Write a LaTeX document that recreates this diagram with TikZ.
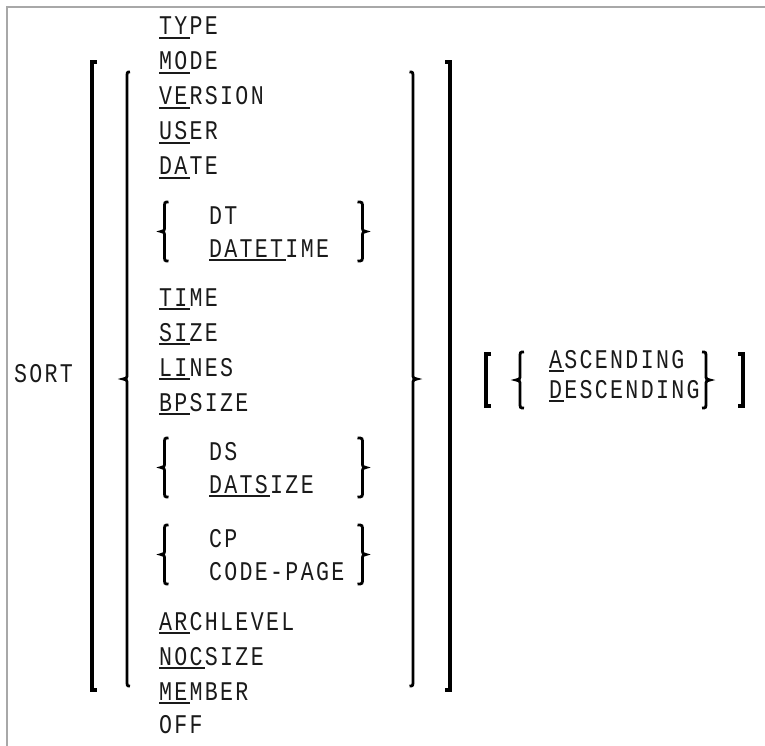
\documentclass[tikz,border=0pt]{standalone}
\usepackage{fontspec}
\newfontfamily\monof{Liberation Mono}[FakeStretch=0.8]
\definecolor{framegray}{HTML}{A8A8A8}
\definecolor{inkc}{HTML}{1A1A1A}
\def\M#1{\Mloop#1\relax}
\def\Mloop#1{\ifx#1\relax\else\makebox[15.3pt][l]{#1}\expandafter\Mloop\fi}
\newcommand\U[1]{\setbox0\hbox{\M{#1}}\rlap{\rule[-3.6pt]{\wd0}{1.4pt}}\box0}
\newcommand\Brc[5]{%
 \draw[brc] ({#1+(#4)},#2) .. controls (#1,#2) .. (#1,{#2+6})
 -- (#1,{(#2+#3)/2-5}) .. controls (#1,{(#2+#3)/2-1}) .. ({#1-(#5)},{(#2+#3)/2})
 .. controls (#1,{(#2+#3)/2+1}) .. (#1,{(#2+#3)/2+5})
 -- (#1,{#3-6}) .. controls (#1,#3) .. ({#1+(#4)},#3);}
\tikzset{
 txt/.style={anchor=base west, inner sep=0pt, outer sep=0pt, text=inkc, font=\monof\fontsize{27}{30}\selectfont},
 brk/.style={line width=4pt, miter limit=10},
 brc/.style={line width=2.8pt},
 frame/.style={draw=framegray, line width=1.5pt}
}
\begin{document}
\begin{tikzpicture}[x=1pt,y=-1pt]
\useasboundingbox (0,0) rectangle (765,746);
\draw[frame] (7,746) -- (7,7) -- (765,7);
% main list
\node[txt] (type) at (159,35) {\U{TY}\M{PE}};
\node[txt] (mode) at (159,70) {\U{MO}\M{DE}};
\node[txt] (version) at (159,105) {\U{VE}\M{RSION}};
\node[txt] (user) at (159,140) {\U{US}\M{ER}};
\node[txt] (date) at (159,175) {\U{DA}\M{TE}};
\node[txt] (dt) at (209,224) {\M{DT}};
\node[txt] (datetime) at (209,257) {\U{DATET}\M{IME}};
\node[txt] (time) at (159,306) {\U{TI}\M{ME}};
\node[txt] (size) at (159,341) {\U{SI}\M{ZE}};
\node[txt] (lines) at (159,376) {\U{LI}\M{NES}};
\node[txt] (bpsize) at (159,411) {\U{BP}\M{SIZE}};
\node[txt] (ds) at (209,460) {\M{DS}};
\node[txt] (datsize) at (209,493) {\U{DATS}\M{IZE}};
\node[txt] (cp) at (209,547) {\M{CP}};
\node[txt] (codepage) at (209,580) {\M{CODE-PAGE}};
\node[txt] (archlevel) at (159,630) {\U{AR}\M{CHLEVEL}};
\node[txt] (nocsize) at (159,665) {\U{NOC}\M{SIZE}};
\node[txt] (member) at (159,700) {\U{ME}\M{MBER}};
\node[txt] (off) at (159,733) {\M{OFF}};
\node[txt] (sort) at (14,382) {\M{SORT}};
\node[txt] (asc) at (549,368) {\U{A}\M{SCENDING}};
\node[txt] (desc) at (549,398) {\U{D}\M{ESCENDING}};
% outer brackets
\draw[brk] (97,62) -- (92,62) -- (92,690) -- (97,690);
\draw[brk] (445,62) -- (450,62) -- (450,690) -- (445,690);
% big braces
\Brc{127}{72}{686}{3}{4}
\Brc{413}{72}{686}{-3.5}{-4}
% small brace groups
\Brc{164.5}{202}{261}{4}{3.5}
\Brc{362.5}{202}{261}{-5}{-3.5}
\Brc{164.5}{438}{497}{4}{3.5}
\Brc{362.5}{438}{497}{-5}{-3.5}
\Brc{164.5}{525}{584}{4}{3.5}
\Brc{362.5}{525}{584}{-5}{-3.5}
% right group
\draw[brk] (491,354) -- (486,354) -- (486,406) -- (491,406);
\draw[brk] (738,354) -- (743,354) -- (743,406) -- (738,406);
\Brc{520}{352}{408}{4}{4}
\Brc{706}{352}{408}{-4}{-4}
\end{tikzpicture}
\end{document}
